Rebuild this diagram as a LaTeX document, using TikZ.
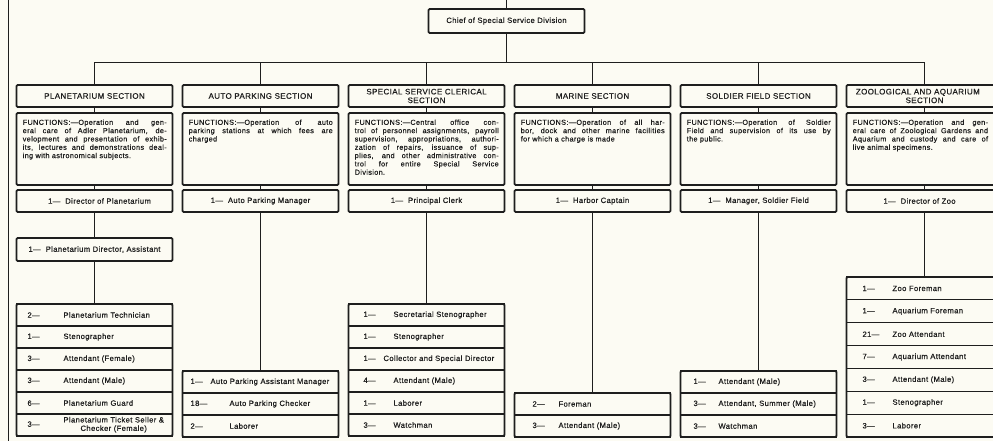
\documentclass[tikz,border=0pt]{standalone}
\usepackage{fontspec}
\newfontfamily\chartfont[LetterSpace=5, FakeBold=0.5]{Liberation Sans}
\usetikzlibrary{positioning}
\definecolor{paper}{RGB}{252,251,243}
\definecolor{ink}{RGB}{30,30,30}
\newcommand{\rw}[4]{\hspace*{#1}\rlap{#3}\hspace*{\dimexpr#2-#1\relax}#4}
\tikzset{
  every node/.style={text=ink},
  frame/.style={draw=ink, line width=1.5pt, rounded corners=1pt, minimum width=46.8mm, inner sep=0pt, outer sep=0pt},
  hdr/.style={frame, minimum height=6.6mm, align=center, font=\chartfont\fontsize{6.8}{7.4}\selectfont},
  fnbox/.style={frame, minimum height=21.6mm},
  fntext/.style={anchor=north west, text width=#1, align=justify, inner sep=0pt, font=\chartfont\fontsize{6.2}{7.1}\selectfont},
  fntext/.default=43.2mm,
  post/.style={frame, minimum height=6.6mm},
  rowbox/.style={draw=ink, line width=0.9pt, minimum height=#1, inner sep=0pt, outer sep=0pt, text width=46.8mm, align=left},
  rowbox/.default=6.6mm,
  link/.style={draw=ink, line width=0.9pt},
  outline/.style={draw=ink, line width=1.5pt, rounded corners=1pt},
}
\begin{document}
\begin{tikzpicture}[x=0.3mm, y=-0.3mm, font=\chartfont\fontsize{6.5}{7.2}\selectfont]
\fill[paper] (0,0) rectangle (993,441);
\useasboundingbox (0,0) rectangle (993,441);
\clip (0,0) rectangle (993,441);

% left edge line and top incoming line
\coordinate (edgeT) at (8.5,0);
\coordinate (edgeB) at (8.5,441);
\draw[link] (edgeT) -- (edgeB);
\coordinate (topin) at (506.5,0);
\coordinate (bus) at (0,62.5);

\node[frame, minimum height=7.2mm] (chief) at (506.5,21) {Chief of Special Service Division};

% section headers
\node[hdr] (h1) at (94.5,96) {PLANETARIUM SECTION};
\node[hdr] (h2) at (260.5,96) {AUTO PARKING SECTION};
\node[hdr] (h3) at (426.5,96) {SPECIAL SERVICE CLERICAL\\SECTION};
\node[hdr] (h4) at (592.5,96) {MARINE SECTION};
\node[hdr] (h5) at (758.5,96) {SOLDIER FIELD SECTION};
\node[hdr] (h6) at (924.5,96) {\hspace*{-4mm}ZOOLOGICAL AND AQUARIUM\\SECTION};

% function boxes
\foreach \i/\x in {1/94.5,2/260.5,3/426.5,4/592.5,5/758.5,6/924.5}
  \node[fnbox] (f\i) at (\x,149) {};

\node[fntext] (ft1) at ([shift={(1.8mm,-1.9mm)}]f1.north west) {FUNCTIONS:—Operation and gen-\linebreak eral care of Adler Planetarium, de-\linebreak velopment and presentation of exhib-\linebreak its, lectures and demonstrations deal-\linebreak ing with astronomical subjects.};
\node[fntext] (ft2) at ([shift={(1.8mm,-1.9mm)}]f2.north west) {FUNCTIONS:—Operation of auto\linebreak parking stations at which fees are\linebreak charged};
\node[fntext] (ft3) at ([shift={(1.8mm,-1.9mm)}]f3.north west) {FUNCTIONS:—Central office con-\linebreak trol of personnel assignments, payroll\linebreak supervision, appropriations, authori-\linebreak zation of repairs, issuance of sup-\linebreak plies, and other administrative con-\linebreak trol for entire Special Service\linebreak Division.};
\node[fntext] (ft4) at ([shift={(1.8mm,-1.9mm)}]f4.north west) {FUNCTIONS:—Operation of all har-\linebreak bor, dock and other marine facilities\linebreak for which a charge is made};
\node[fntext] (ft5) at ([shift={(1.8mm,-1.9mm)}]f5.north west) {FUNCTIONS:—Operation of Soldier\linebreak Field and supervision of its use by\linebreak the public.};
\node[fntext=40.6mm] (ft6) at ([shift={(1.8mm,-1.9mm)}]f6.north west) {FUNCTIONS:—Operation and gen-\linebreak eral care of Zoological Gardens and\linebreak Aquarium and custody and care of\linebreak live animal specimens.};

% first level posts
\node[post] (p1) at (94.5,201) {\hspace*{3mm}1— \ Director of Planetarium};
\node[post] (p2) at (260.5,201) {1— \ Auto Parking Manager};
\node[post] (p3) at (426.5,201) {1— \ Principal Clerk};
\node[post] (p4) at (592.5,201) {1— \ Harbor Captain};
\node[post] (p5) at (758.5,201) {1— \ Manager, Soldier Field};
\node[post] (p6) at (924.5,201) {\hspace*{-3mm}1— \ Director of Zoo};
\node[post, minimum height=6.9mm] (p1b) at (94.5,249.5) {1— \ Planetarium Director, Assistant};

% Planetarium group
\node[rowbox, anchor=north] (pa1) at (94.5,304) {\rw{3.3mm}{14.1mm}{2—}{Planetarium Technician}};
\node[rowbox, below=0pt of pa1] (pa2) {\rw{3.3mm}{14.1mm}{1—}{Stenographer}};
\node[rowbox, below=0pt of pa2] (pa3) {\rw{3.3mm}{14.1mm}{3—}{Attendant (Female)}};
\node[rowbox, below=0pt of pa3] (pa4) {\rw{3.3mm}{14.1mm}{3—}{Attendant (Male)}};
\node[rowbox, below=0pt of pa4] (pa5) {\rw{3.3mm}{14.1mm}{6—}{Planetarium Guard}};
\node[rowbox, below=0pt of pa5] (pa6) {\rw{3.3mm}{14.1mm}{3—}{\begin{tabular}[c]{@{}c@{}}Planetarium Ticket Seller \&\\Checker (Female)\end{tabular}}};
\draw[outline] (pa1.north west) rectangle (pa6.south east);

% Auto parking group
\node[rowbox, anchor=north] (au1) at (260.5,371) {\rw{2.4mm}{8.4mm}{1—}{Auto Parking Assistant Manager}};
\node[rowbox, below=0pt of au1] (au2) {\rw{2.4mm}{14.1mm}{18—}{Auto Parking Checker}};
\node[rowbox, below=0pt of au2] (au3) {\rw{2.4mm}{14.1mm}{2—}{Laborer}};
\draw[outline] (au1.north west) rectangle (au3.south east);

% Clerical group
\node[rowbox, anchor=north] (cl1) at (426.5,304) {\rw{4.5mm}{13.5mm}{1—}{Secretarial Stenographer}};
\node[rowbox, below=0pt of cl1] (cl2) {\rw{4.5mm}{13.5mm}{1—}{Stenographer}};
\node[rowbox, below=0pt of cl2] (cl3) {\rw{4.5mm}{10.5mm}{1—}{Collector and Special Director}};
\node[rowbox, below=0pt of cl3] (cl4) {\rw{4.5mm}{13.5mm}{4—}{Attendant (Male)}};
\node[rowbox, below=0pt of cl4] (cl5) {\rw{4.5mm}{13.5mm}{1—}{Laborer}};
\node[rowbox, below=0pt of cl5] (cl6) {\rw{4.5mm}{13.5mm}{3—}{Watchman}};
\draw[outline] (cl1.north west) rectangle (cl6.south east);

% Marine group
\node[rowbox, anchor=north] (ma1) at (592.5,393) {\rw{5.4mm}{13.2mm}{2—}{Foreman}};
\node[rowbox, below=0pt of ma1] (ma2) {\rw{5.4mm}{13.2mm}{3—}{Attendant (Male)}};
\draw[outline] (ma1.north west) rectangle (ma2.south east);

% Soldier Field group
\node[rowbox, anchor=north] (so1) at (758.5,371) {\rw{3.9mm}{11.4mm}{1—}{Attendant (Male)}};
\node[rowbox, below=0pt of so1] (so2) {\rw{3.9mm}{11.4mm}{3—}{Attendant, Summer (Male)}};
\node[rowbox, below=0pt of so2] (so3) {\rw{3.9mm}{11.4mm}{3—}{Watchman}};
\draw[outline] (so1.north west) rectangle (so3.south east);

% Zoo group
\node[rowbox=6.86mm, anchor=north] (zo1) at (924.5,277) {\rw{4.8mm}{13.8mm}{1—}{Zoo Foreman}};
\node[rowbox=6.86mm, below=0pt of zo1] (zo2) {\rw{4.8mm}{13.8mm}{1—}{Aquarium Foreman}};
\node[rowbox=6.86mm, below=0pt of zo2] (zo3) {\rw{4.8mm}{13.8mm}{21—}{Zoo Attendant}};
\node[rowbox=6.86mm, below=0pt of zo3] (zo4) {\rw{4.8mm}{13.8mm}{7—}{Aquarium Attendant}};
\node[rowbox=6.86mm, below=0pt of zo4] (zo5) {\rw{4.8mm}{13.8mm}{3—}{Attendant (Male)}};
\node[rowbox=6.86mm, below=0pt of zo5] (zo6) {\rw{4.8mm}{13.8mm}{1—}{Stenographer}};
\node[rowbox=6.86mm, below=0pt of zo6] (zo7) {\rw{4.8mm}{13.8mm}{3—}{Laborer}};
\draw[outline] (zo1.north west) rectangle (zo7.south east);

% connectors
\draw[link] (topin) -- (chief.north);
\draw[link] (chief.south) -- (chief.south |- bus);
\draw[link] (h1.north) |- (bus -| h6.north) -- (h6.north);
\foreach \i in {2,...,5} \draw[link] (h\i.north) -- (h\i.north |- bus);
\foreach \i in {1,...,6} {
  \draw[link] (h\i.south) -- (f\i.north);
  \draw[link] (f\i.south) -- (p\i.north);
}
\draw[link] (p1.south) -- (p1b.north);
\draw[link] (p1b.south) -- (pa1.north);
\draw[link] (p2.south) -- (au1.north);
\draw[link] (p3.south) -- (cl1.north);
\draw[link] (p4.south) -- (ma1.north);
\draw[link] (p5.south) -- (so1.north);
\draw[link] (p6.south) -- (zo1.north);
\end{tikzpicture}
\end{document}
